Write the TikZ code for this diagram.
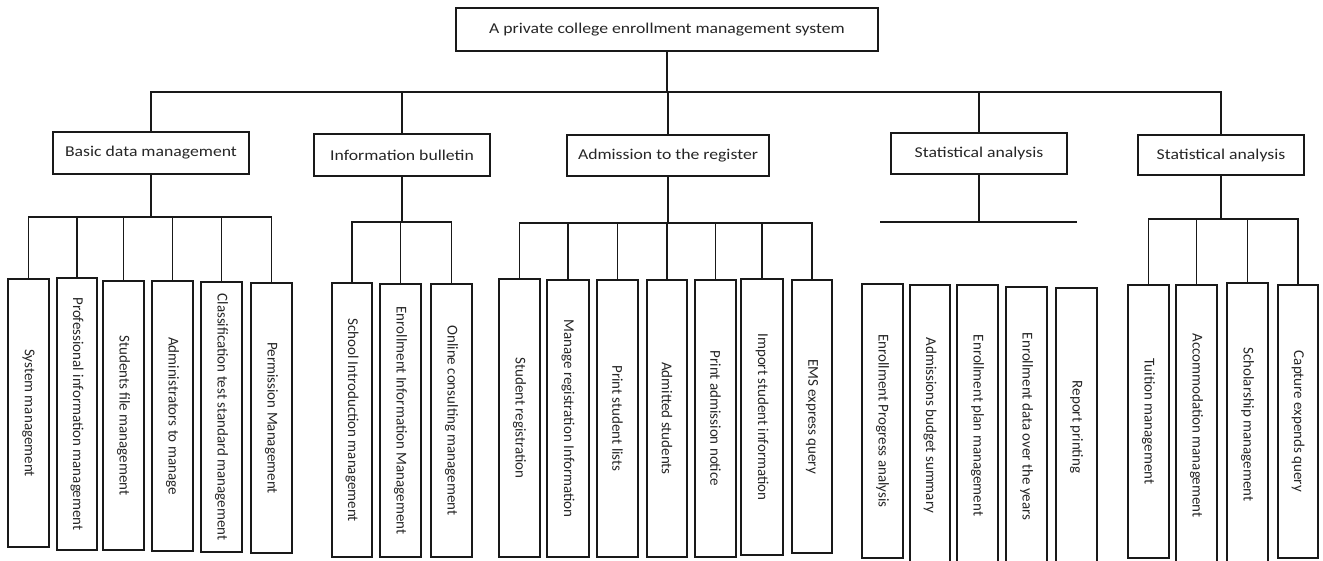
\documentclass[tikz,border=0pt]{standalone}
\usepackage{fontspec}
\setmainfont{Carlito}
\tikzset{
  box/.style={draw=black!90, line width=1.6pt, inner sep=0pt, fill=white,
    font=\fontsize{15}{18}\selectfont, text=black!85},
  conn/.style={draw=black!90, line width=1.5pt},
}
\newcommand\hx[1]{\scalebox{1.18}[1]{#1}}
\newcommand\leafbox[6]{\node[box, minimum width={(#3-#2)*1pt}, minimum height={(#5-#4)*1pt}] (#1) at ({(#2+#3)/2},{(#4+#5)/2}) {\rotatebox{-90}{#6}};}
\newcommand\flatbox[6]{\node[box, minimum width={(#3-#2)*1pt}, minimum height={(#5-#4)*1pt}] (#1) at ({(#2+#3)/2},{(#4+#5)/2}) {\hx{#6}};}
\begin{document}
\begin{tikzpicture}[x=1pt,y=-1pt]
\useasboundingbox[fill=white] (0,0) rectangle (1323,560);
\clip (0,0) rectangle (1323,560);
% root
\flatbox{root}{456}{878}{8}{51}{A private college enrollment management system}
% level 2
\flatbox{basic}{53}{249}{132}{174}{Basic data management}
\flatbox{info}{314}{490}{134}{176}{Information bulletin}
\flatbox{adm}{567}{769}{135}{176}{Admission to the register}
\flatbox{stat}{891}{1067}{133}{174}{Statistical analysis}
\flatbox{statb}{1138}{1304}{135}{175}{Statistical analysis}
% level 3, group 1
\leafbox{a1}{8}{49}{279}{547}{System management}
\leafbox{a2}{57}{97}{278}{550}{Professional information management}
\leafbox{a3}{103}{144}{281}{550}{Students file management}
\leafbox{a4}{152}{193}{281}{551}{Administrators to manage}
\leafbox{a5}{201}{242}{282}{552}{Classification test standard management}
\leafbox{a6}{251}{292}{283}{553}{Permission Management}
% group 2
\leafbox{b1}{332}{372}{283}{557}{School Introduction management}
\leafbox{b2}{380}{421}{284}{557}{Enrollment Information Management}
\leafbox{b3}{431}{472}{284}{557}{Online consulting management}
% group 3
\leafbox{c1}{499}{540}{279}{557}{Student registration}
\leafbox{c2}{547}{589}{280}{557}{Manage registration Information}
\leafbox{c3}{597}{638}{280}{557}{Print student lists}
\leafbox{c4}{647}{687}{280}{557}{Admitted students}
\leafbox{c5}{695}{736}{280}{557}{Print admission notice}
\leafbox{c6}{741}{783}{279}{555}{Import student information}
\leafbox{c7}{792}{832}{280}{553}{EMS express query}
% group 4
\leafbox{d1}{862}{903}{284}{558}{Enrollment Progress analysis}
\leafbox{d2}{910}{950}{285}{566}{Admissions budget summary}
\leafbox{d3}{957}{998}{285}{566}{Enrollment plan management}
\leafbox{d4}{1006}{1047}{287}{566}{Enrollment data over the years}
\leafbox{d5}{1056}{1097}{288}{566}{Report printing}
% group 5
\leafbox{e1}{1128}{1169}{285}{558}{Tuition management}
\leafbox{e2}{1176}{1217}{285}{566}{Accommodation management}
\leafbox{e3}{1227}{1268}{283}{566}{Scholarship management}
\leafbox{e4}{1278}{1318}{285}{558}{Capture expends query}
% connectors level 1 -> 2
\coordinate (bus0) at (667,92);
\draw[conn] (root) -- (bus0);
\draw[conn] (basic.north) -- (basic.north |- bus0) -- (statb.north |- bus0) -- (statb.north);
\foreach \n in {info,adm,stat} \draw[conn] (\n.north) -- (\n.north |- bus0);
% group 1
\coordinate (busa) at (151,217);
\draw[conn] (basic) -- (busa);
\draw[conn] (a1.north) -- (a1.north |- busa) -- (a6.north |- busa) -- (a6.north);
\foreach \n in {a2,a3,a4,a5} \draw[conn] (\n.north) -- (\n.north |- busa);
% group 2
\coordinate (busb) at (402,222);
\draw[conn] (info) -- (busb);
\draw[conn] (b1.north) -- (b1.north |- busb) -- (b3.north |- busb) -- (b3.north);
\draw[conn] (b2.north) -- (b2.north |- busb);
% group 3
\coordinate (busc) at (668,223);
\draw[conn] (adm) -- (busc);
\draw[conn] (c1.north) -- (c1.north |- busc) -- (c7.north |- busc) -- (c7.north);
\foreach \n in {c2,c3,c4,c5,c6} \draw[conn] (\n.north) -- (\n.north |- busc);
% group 4
\coordinate (busd) at (979,222);
\coordinate (busdl) at (880,222);
\coordinate (busdr) at (1077,222);
\draw[conn] (stat) -- (busd);
\draw[conn] (busdl) -- (busdr);
% group 5
\coordinate (buse) at (1221,219);
\draw[conn] (statb) -- (buse);
\draw[conn] (e1.north) -- (e1.north |- buse) -- (e4.north |- buse) -- (e4.north);
\foreach \n in {e2,e3} \draw[conn] (\n.north) -- (\n.north |- buse);
\end{tikzpicture}
\end{document}
